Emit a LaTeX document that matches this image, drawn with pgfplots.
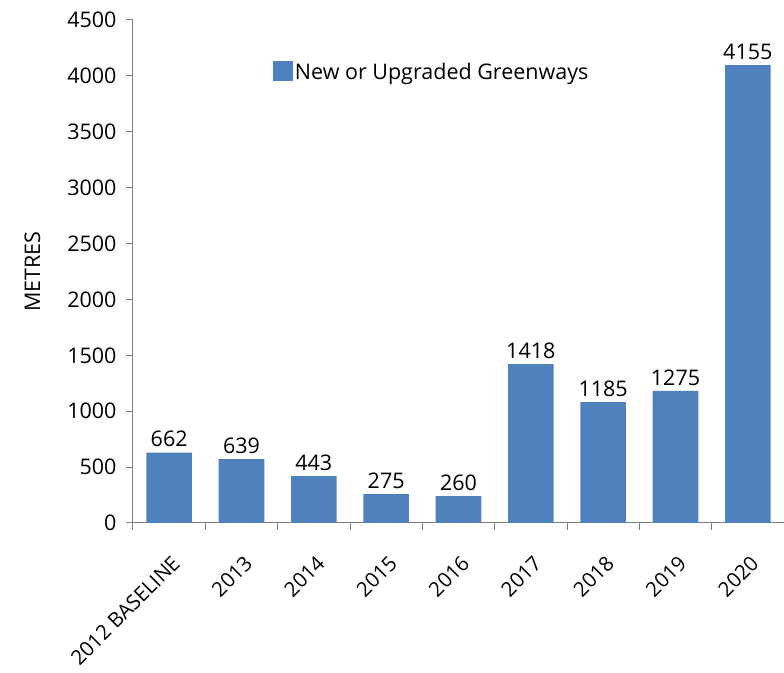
\documentclass[border=0pt]{standalone}
\usepackage{pgfplots}
\pgfplotsset{compat=1.18}
\usepackage{pgfplotstable}
\usepackage{fontspec}
\setmainfont{Open Sans}
\definecolor{barblue}{HTML}{4F81BD}
\definecolor{axgray}{HTML}{808080}
\pgfplotstableread{
x y lab
0 629 662
1 572 639
2 420 443
3 259 275
4 241 260
5 1422 1418
6 1082 1185
7 1181 1275
8 4097 4155
}\greenways
\begin{document}
\begin{tikzpicture}
\begin{axis}[
  name=ax,
  scale only axis,
  width=651pt, height=503pt,
  xmin=-0.5, xmax=8.5,
  ymin=0, ymax=4500,
  ytick={0,500,...,4500},
  xtick={-0.5,0.5,...,8.5},
  x tick label as interval,
  xticklabels={2012 BASELINE,2013,2014,2015,2016,2017,2018,2019,2020},
  x tick label style={rotate=45, anchor=east, inner sep=1pt, yshift=-26pt, xshift=-15pt, font=\fontsize{20.5}{24}\selectfont},
  axis x line*=bottom,
  axis y line*=left,
  axis line style={axgray, line width=1pt, -},
  tick style={axgray, line width=1pt},
  tick align=outside,
  major tick length=7pt,
  /pgf/number format/assume math mode=true,
  /pgf/number format/1000 sep={},
  tick label style={font=\fontsize{21.5}{25}\selectfont, black},
  y tick label style={xshift=-6pt},
  ylabel={METRES},
  ylabel style={font=\fontsize{21.5}{25}\selectfont, yshift=20pt},
  legend style={at={(0.21,0.897)}, anchor=west, draw=none, fill=none,
    font=\fontsize{21.5}{25}\selectfont, legend cell align=left},
  legend image code/.code={\fill[barblue] (0pt,-9pt) rectangle (20pt,11pt);},
  clip=false,
]
\addplot[ybar, bar width=0.63, fill=barblue, draw=none,
  nodes near coords, point meta=explicit symbolic,
  every node near coord/.append style={font=\fontsize{21.5}{25}\selectfont, black, yshift=2pt}]
  table[x=x, y=y, meta=lab] {\greenways};
\addlegendentry{New or Upgraded Greenways}
\end{axis}
\pgfresetboundingbox
\path (ax.south west) ++(-133pt,-150pt) rectangle ([shift={(0pt,20pt)}]ax.north east);
\end{tikzpicture}
\end{document}
